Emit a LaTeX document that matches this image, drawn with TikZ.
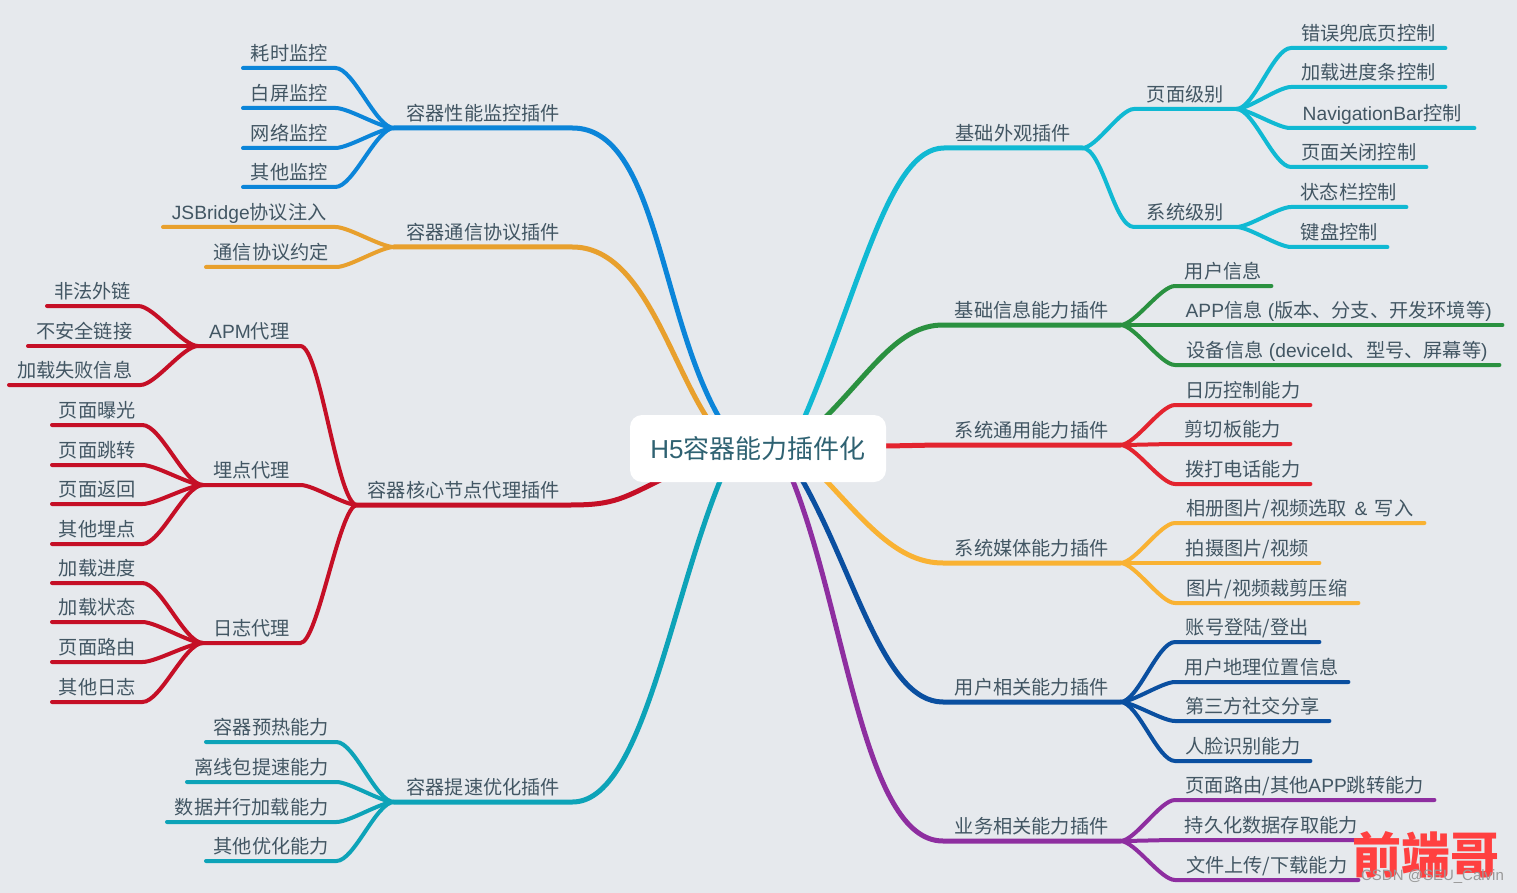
\documentclass[tikz,border=0pt]{standalone}
\usepackage{fontspec}
\setmainfont{Noto Sans CJK SC}
\newfontfamily\latinfont{Liberation Sans}
\newcommand{\lat}[1]{{\latinfont #1}}
\definecolor{bgcol}{HTML}{E6E9ED}
\definecolor{txtcol}{HTML}{425663}
\definecolor{rootcol}{HTML}{2F6272}
\definecolor{cyancol}{HTML}{10B9D3}
\definecolor{greencol}{HTML}{2A9140}
\definecolor{redcol}{HTML}{E3242F}
\definecolor{yellowcol}{HTML}{F9B233}
\definecolor{navycol}{HTML}{0A4FA0}
\definecolor{purplecol}{HTML}{8E2EA0}
\definecolor{tealcol}{HTML}{0DA3B8}
\definecolor{crimsoncol}{HTML}{C50F26}
\definecolor{orangecol}{HTML}{E8A02D}
\definecolor{bluecol}{HTML}{0B85D9}
\pgfdeclarelayer{front}
\pgfsetlayers{main,front}
\tikzset{
  lab/.style={anchor=south west,inner sep=0pt,minimum height=30,text height=19,text depth=3,text=txtcol,font=\fontsize{19.2}{19.2}\selectfont},
  root/.style={fill=white,rounded corners=12,inner sep=0pt,minimum width=256,minimum height=67,text=rootcol,font=\fontsize{26}{26}\selectfont},
  branch/.style={line width=5,line cap=round},
  twig/.style={line width=4,line cap=round},
  go right/.style={out=0,in=180,looseness=.55},
  go left/.style={out=180,in=0,looseness=.55},
  far left/.style={out=180,in=0,looseness=.3}
}
\begin{document}
\begin{tikzpicture}[x=1pt,y=-1pt]
      \useasboundingbox (0,0) rectangle (1517,893);
      \fill[bgcol] (0,0) rectangle (1517,893);
      % right side
      \node[lab,minimum width=138] (look) at (944,148) {基础外观插件};
      \node[lab,minimum width=102] (page) at (1134,109) {页面级别};
      \node[lab,minimum width=154] (page1) at (1291,48) {错误兜底页控制};
      \node[lab,minimum width=154] (page2) at (1291,87) {加载进度条控制};
      \node[lab,minimum width=184] (page3) at (1290,128) {\lat{NavigationBar}控制};
      \node[lab,minimum width=135] (page4) at (1291,167) {页面关闭控制};
      \node[lab,minimum width=102] (sys) at (1134,227) {系统级别};
      \node[lab,minimum width=115] (sys1) at (1291,207) {状态栏控制};
      \node[lab,minimum width=96] (sys2) at (1291,247) {键盘控制};
      \node[lab,minimum width=177] (info) at (943,325) {基础信息能力插件};
      \node[lab,minimum width=96] (info1) at (1175,286) {用户信息};
      \node[lab,minimum width=327] (info2) at (1175,325) {\lat{APP}信息\lat{ (}版本、分支、开发环境等\lat{)}};
      \node[lab,minimum width=324] (info3) at (1175,365) {设备信息\lat{ (deviceId}、型号、屏幕等\lat{)}};
      \node[lab,minimum width=177] (comm) at (943,445) {系统通用能力插件};
      \node[lab,minimum width=135] (comm1) at (1175,405) {日历控制能力};
      \node[lab,minimum width=115] (comm2) at (1175,444) {剪切板能力};
      \node[lab,minimum width=135] (comm3) at (1175,484) {拨打电话能力};
      \node[lab,minimum width=177] (media) at (943,563) {系统媒体能力插件};
      \node[lab,minimum width=249] (media1) at (1175,523) {相册图片/视频选取 \,\lat{\&}\, 写入};
      \node[lab,minimum width=144] (media2) at (1175,563) {拍摄图片/视频};
      \node[lab,minimum width=183] (media3) at (1175,603) {图片/视频裁剪压缩};
      \node[lab,minimum width=177] (user) at (943,702) {用户相关能力插件};
      \node[lab,minimum width=144] (user1) at (1175,642) {账号登陆/登出};
      \node[lab,minimum width=173] (user2) at (1175,682) {用户地理位置信息};
      \node[lab,minimum width=154] (user3) at (1175,721) {第三方社交分享};
      \node[lab,minimum width=135] (user4) at (1175,761) {人脸识别能力};
      \node[lab,minimum width=177] (biz) at (943,841) {业务相关能力插件};
      \node[lab,minimum width=259] (biz1) at (1175,800) {页面路由/其他\lat{APP}跳转能力};
      \node[lab,minimum width=192] (biz2) at (1175,840) {持久化数据存取能力};
      \node[lab,minimum width=183] (biz3) at (1175,880) {文件上传/下载能力};
      % left side
      \node[lab,minimum width=178] (perf) at (394,128) {容器性能监控插件};
      \node[lab,minimum width=92] (perf1) at (243,68) {耗时监控};
      \node[lab,minimum width=92] (perf2) at (243,108) {白屏监控};
      \node[lab,minimum width=92] (perf3) at (243,148) {网络监控};
      \node[lab,minimum width=92] (perf4) at (243,187) {其他监控};
      \node[lab,minimum width=178] (bridge) at (394,247) {容器通信协议插件};
      \node[lab,minimum width=172] (bridge1) at (163,227) {\lat{JSBridge}协议注入};
      \node[lab,minimum width=130] (bridge2) at (206,267) {通信协议约定};
      \node[lab,minimum width=213] (core) at (357,505) {容器核心节点代理插件};
      \node[lab,minimum width=102] (apm) at (198,346) {\lat{APM}代理};
      \node[lab,minimum width=91] (apm1) at (47,306) {非法外链};
      \node[lab,minimum width=112] (apm2) at (28,346) {不安全链接};
      \node[lab,minimum width=131] (apm3) at (9,385) {加载失败信息};
      \node[lab,minimum width=97] (track) at (203,485) {埋点代理};
      \node[lab,minimum width=90] (track1) at (52,425) {页面曝光};
      \node[lab,minimum width=90] (track2) at (52,465) {页面跳转};
      \node[lab,minimum width=90] (track3) at (52,504) {页面返回};
      \node[lab,minimum width=90] (track4) at (52,544) {其他埋点};
      \node[lab,minimum width=97] (log) at (203,643) {日志代理};
      \node[lab,minimum width=90] (log1) at (52,583) {加载进度};
      \node[lab,minimum width=90] (log2) at (52,622) {加载状态};
      \node[lab,minimum width=90] (log3) at (52,662) {页面路由};
      \node[lab,minimum width=90] (log4) at (52,702) {其他日志};
      \node[lab,minimum width=178] (speed) at (394,802) {容器提速优化插件};
      \node[lab,minimum width=130] (speed1) at (206,742) {容器预热能力};
      \node[lab,minimum width=149] (speed2) at (187,782) {离线包提速能力};
      \node[lab,minimum width=169] (speed3) at (167,822) {数据并行加载能力};
      \node[lab,minimum width=130] (speed4) at (206,861) {其他优化能力};
      % centre
      \begin{pgfonlayer}{front}
        \node[root] (h5) at (758,448.5) {\lat{H5}容器能力插件化};
      \end{pgfonlayer}
      % branches
      \begin{scope}[cyancol]
        \draw[branch] ([xshift=45,yshift=-6]h5.north) .. controls +(58,-135) and +(-55,0) .. (look.south west) -- (look.south east);
        \draw[twig] (look.south east) to[go right] (page.south west) -- (page.south east);
        \draw[twig] (look.south east) to[go right] (sys.south west) -- (sys.south east);
        \draw[twig] (page.south east) to[go right] (page1.south west) -- (page1.south east);
        \draw[twig] (page.south east) to[go right] (page2.south west) -- (page2.south east);
        \draw[twig] (page.south east) to[go right] (page3.south west) -- (page3.south east);
        \draw[twig] (page.south east) to[go right] (page4.south west) -- (page4.south east);
        \draw[twig] (sys.south east) to[go right] (sys1.south west) -- (sys1.south east);
        \draw[twig] (sys.south east) to[go right] (sys2.south west) -- (sys2.south east);
      \end{scope}
      \begin{scope}[greencol]
        \draw[branch] ([xshift=64,yshift=-6]h5.north) .. controls +(50,-50) and +(-45,0) .. (info.south west) -- (info.south east);
        \draw[twig] (info.south east) to[go right] (info1.south west) -- (info1.south east);
        \draw[twig] (info.south east) to[go right] (info2.south west) -- (info2.south east);
        \draw[twig] (info.south east) to[go right] (info3.south west) -- (info3.south east);
      \end{scope}
      \begin{scope}[redcol]
        \draw[branch] ([xshift=-5,yshift=2.5]h5.east) to[go right] (comm.south west) -- (comm.south east);
        \draw[twig] (comm.south east) to[go right] (comm1.south west) -- (comm1.south east);
        \draw[twig] (comm.south east) to[go right] (comm2.south west) -- (comm2.south east);
        \draw[twig] (comm.south east) to[go right] (comm3.south west) -- (comm3.south east);
      \end{scope}
      \begin{scope}[yellowcol]
        \draw[branch] ([xshift=64,yshift=6]h5.south) .. controls +(45,48) and +(-45,0) .. (media.south west) -- (media.south east);
        \draw[twig] (media.south east) to[go right] (media1.south west) -- (media1.south east);
        \draw[twig] (media.south east) to[go right] (media2.south west) -- (media2.south east);
        \draw[twig] (media.south east) to[go right] (media3.south west) -- (media3.south east);
      \end{scope}
      \begin{scope}[navycol]
        \draw[branch] ([xshift=42,yshift=6]h5.south) .. controls +(55,95) and +(-60,0) .. (user.south west) -- (user.south east);
        \draw[twig] (user.south east) to[go right] (user1.south west) -- (user1.south east);
        \draw[twig] (user.south east) to[go right] (user2.south west) -- (user2.south east);
        \draw[twig] (user.south east) to[go right] (user3.south west) -- (user3.south east);
        \draw[twig] (user.south east) to[go right] (user4.south west) -- (user4.south east);
      \end{scope}
      \begin{scope}[purplecol]
        \draw[branch] ([xshift=33,yshift=6]h5.south) .. controls +(55,135) and +(-80,0) .. (biz.south west) -- (biz.south east);
        \draw[twig] (biz.south east) to[go right] (biz1.south west) -- (biz1.south east);
        \draw[twig] (biz.south east) to[go right] (biz2.south west) -- (biz2.south east);
        \draw[twig] (biz.south east) to[go right] (biz3.south west) -- (biz3.south east);
      \end{scope}
      \begin{scope}[tealcol]
        \draw[branch] ([xshift=-36,yshift=6]h5.south) .. controls +(-52,125) and +(70,0) .. (speed.south east) -- (speed.south west);
        \draw[twig] (speed.south west) to[go left] (speed1.south east) -- (speed1.south west);
        \draw[twig] (speed.south west) to[go left] (speed2.south east) -- (speed2.south west);
        \draw[twig] (speed.south west) to[go left] (speed3.south east) -- (speed3.south west);
        \draw[twig] (speed.south west) to[go left] (speed4.south east) -- (speed4.south west);
      \end{scope}
      \begin{scope}[crimsoncol]
        \draw[branch] ([xshift=-90,yshift=6]h5.south) .. controls +(-45,22) and +(45,0) .. (core.south east) -- (core.south west);
        \draw[twig] (core.south west) to[far left] (apm.south east) -- (apm.south west);
        \draw[twig] (core.south west) to[go left] (track.south east) -- (track.south west);
        \draw[twig] (core.south west) to[far left] (log.south east) -- (log.south west);
        \draw[twig] (apm.south west) to[go left] (apm1.south east) -- (apm1.south west);
        \draw[twig] (apm.south west) to[go left] (apm2.south east) -- (apm2.south west);
        \draw[twig] (apm.south west) to[go left] (apm3.south east) -- (apm3.south west);
        \draw[twig] (track.south west) to[go left] (track1.south east) -- (track1.south west);
        \draw[twig] (track.south west) to[go left] (track2.south east) -- (track2.south west);
        \draw[twig] (track.south west) to[go left] (track3.south east) -- (track3.south west);
        \draw[twig] (track.south west) to[go left] (track4.south east) -- (track4.south west);
        \draw[twig] (log.south west) to[go left] (log1.south east) -- (log1.south west);
        \draw[twig] (log.south west) to[go left] (log2.south east) -- (log2.south west);
        \draw[twig] (log.south west) to[go left] (log3.south east) -- (log3.south west);
        \draw[twig] (log.south west) to[go left] (log4.south east) -- (log4.south west);
      \end{scope}
      \begin{scope}[orangecol]
        \draw[branch] ([xshift=-49,yshift=-6]h5.north) .. controls +(-40,-60) and +(70,0) .. (bridge.south east) -- (bridge.south west);
        \draw[twig] (bridge.south west) to[go left] (bridge1.south east) -- (bridge1.south west);
        \draw[twig] (bridge.south west) to[go left] (bridge2.south east) -- (bridge2.south west);
      \end{scope}
      \begin{scope}[bluecol]
        \draw[branch] ([xshift=-37,yshift=-6]h5.north) .. controls +(-62,-105) and +(85,0) .. (perf.south east) -- (perf.south west);
        \draw[twig] (perf.south west) to[go left] (perf1.south east) -- (perf1.south west);
        \draw[twig] (perf.south west) to[go left] (perf2.south east) -- (perf2.south west);
        \draw[twig] (perf.south west) to[go left] (perf3.south east) -- (perf3.south west);
        \draw[twig] (perf.south west) to[go left] (perf4.south east) -- (perf4.south west);
      \end{scope}
      % watermark
      \node[inner sep=0pt,text=red!75!white,font=\bfseries\fontsize{49}{49}\selectfont] (mark) at (1426,855) {前端哥};
      \node[inner sep=0pt,text=gray!80,font=\latinfont\fontsize{15}{15}\selectfont] (csdn) at (1432.5,877) {CSDN @SEU\_Calvin};
    \end{tikzpicture}
\end{document}
